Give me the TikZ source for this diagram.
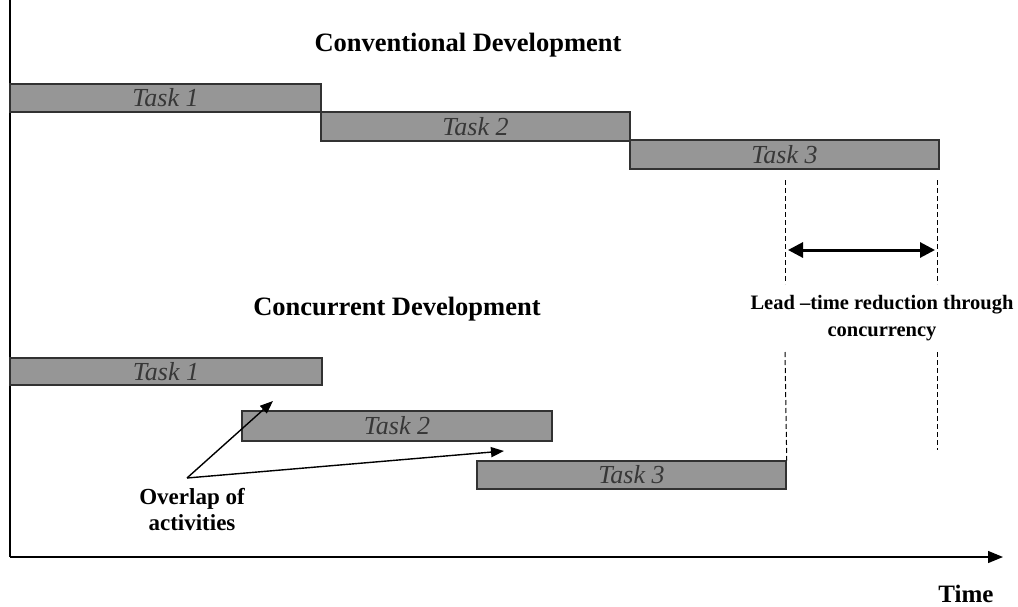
\documentclass[tikz,border=0pt]{standalone}
\usepackage{fontspec}
\setmainfont{Liberation Serif}
\usetikzlibrary{arrows.meta}
\definecolor{barfill}{RGB}{150,150,150}
\definecolor{barline}{RGB}{50,50,50}
\definecolor{tasktext}{RGB}{55,55,55}
\tikzset{
  taskbar/.style={rectangle, inner sep=0pt, fill=barfill, draw=barline, line width=1.5pt,
    font=\fontsize{26}{26}\selectfont\itshape, text=tasktext},
  heading/.style={font=\bfseries, align=center, inner sep=0pt},
  axis/.style={line width=1.3pt},
  guide/.style={line width=1pt, dash pattern=on 5pt off 3pt},
  gain/.style={line width=3pt, {Triangle[length=15pt,width=15pt]}-{Triangle[length=15pt,width=15pt]}},
  pointer/.style={line width=1.4pt, -{Triangle[length=13pt,width=10pt]}}
}
\begin{document}
\begin{tikzpicture}[x=1pt,y=-1pt]
\useasboundingbox (0,0) rectangle (1018,606);

% axes
\coordinate (origin) at (10,557);
\coordinate (ytop) at (10,0);
\coordinate (xend) at (1003,557);
\draw[axis] (ytop) -- (origin);
\draw[axis, -{Triangle[length=15pt,width=12pt]}] (origin) -- (xend);
\node[heading, font=\fontsize{25}{28}\selectfont\bfseries] (time) at (966,594) {Time};

% conventional schedule
\node[heading, font=\fontsize{26.5}{28}\selectfont\bfseries] (conv) at (468,45) {Conventional Development};
\node[taskbar, minimum width=311pt, minimum height=28pt] (c1) at (165.5,98) {Task 1};
\node[taskbar, minimum width=309pt, minimum height=29pt] (c2) at (475.5,126.5) {Task 2};
\node[taskbar, minimum width=309pt, minimum height=29pt] (c3) at (784.5,154.5) {Task 3};

% concurrent schedule
\node[heading, font=\fontsize{26.5}{28}\selectfont\bfseries] (conc) at (397,309) {Concurrent Development};
\node[taskbar, minimum width=312pt, minimum height=27pt] (k1) at (166,371.5) {Task 1};
\node[taskbar, minimum width=310pt, minimum height=30pt] (k2) at (397,426) {Task 2};
\node[taskbar, minimum width=309pt, minimum height=28pt] (k3) at (631.5,475) {Task 3};

% lead-time guides
\coordinate (ga1) at (785,180);
\coordinate (ga2) at (785,284);
\coordinate (ga3) at (785,352);
\coordinate (gb1) at (937,180);
\coordinate (gb2) at (937,284);
\coordinate (gb3) at (937,352);
\coordinate (gb4) at (937,450);
\draw[guide] (ga1) -- (ga2);
\draw[guide] (ga3) -- (k3.north east);
\draw[guide] (gb1) -- (gb2);
\draw[guide] (gb3) -- (gb4);
\coordinate (la) at (788,250);
\coordinate (lb) at (935,250);
\draw[gain] (la) -- (lb);
\node[heading, font=\fontsize{20.5}{27}\selectfont\bfseries] (lead) at (882,318) {Lead --time reduction through\\concurrency};

% overlap callout
\node[heading, font=\fontsize{23}{26}\selectfont\bfseries] (ov) at (192,510) {Overlap of\\activities};
\coordinate (vx) at (187,478);
\coordinate (p1) at (273,401);
\coordinate (p2) at (504,451);
\draw[pointer] (vx) -- (p1);
\draw[pointer] (vx) -- (p2);
\end{tikzpicture}
\end{document}
